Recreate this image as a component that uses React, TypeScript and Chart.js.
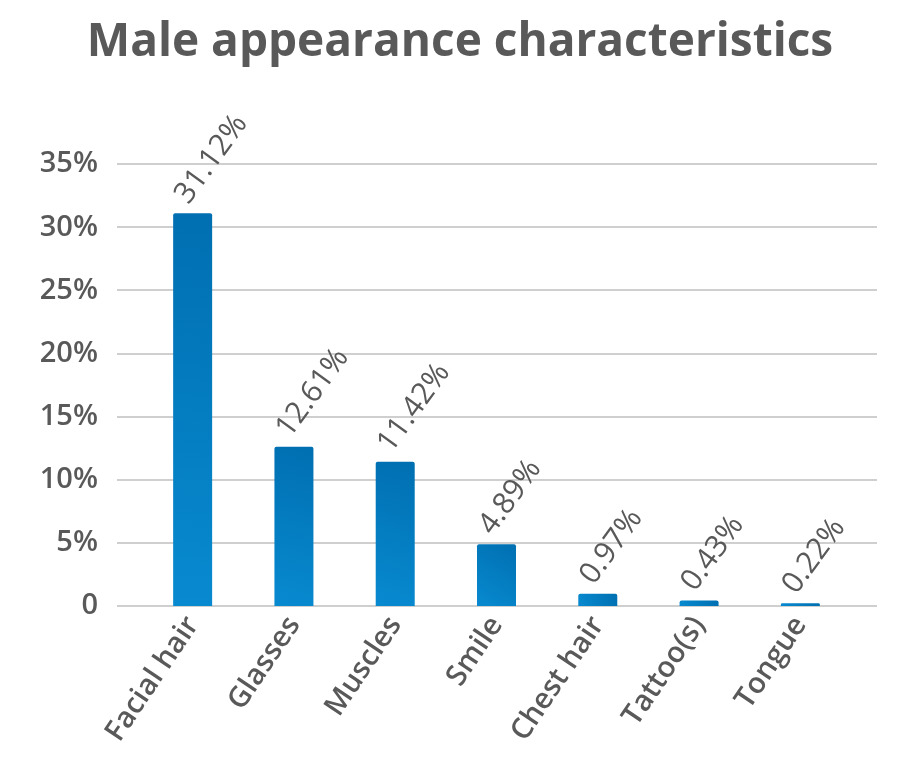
import React, { useEffect, useRef } from "react";
import { Chart, registerables } from "chart.js";

Chart.register(...registerables);

const titleText = "Male appearance characteristics";
const categories = ["Facial hair", "Glasses", "Muscles", "Smile", "Chest hair", "Tattoo(s)", "Tongue"];
const values = [31.12, 12.61, 11.42, 4.89, 0.97, 0.43, 0.22];
const valueLabels = ["31.12%", "12.61%", "11.42%", "4.89%", "0.97%", "0.43%", "0.22%"];
const yTickValues = [0, 5, 10, 15, 20, 25, 30, 35];
const yTickLabels = ["0", "5%", "10%", "15%", "20%", "25%", "30%", "35%"];

const FONT = '"Open Sans", "Noto Sans", sans-serif';
const TEXT = "#595959";

const gridPlugin = {
  id: "extGrid",
  beforeDatasetsDraw(chart: any) {
    const { ctx, chartArea, scales } = chart;
    const y = scales.y;
    ctx.save();
    ctx.strokeStyle = "#cfcfcf";
    ctx.lineWidth = 2;
    yTickValues.forEach((v) => {
      const py = Math.round(y.getPixelForValue(v));
      ctx.beginPath();
      ctx.moveTo(chartArea.left - 25, py);
      ctx.lineTo(chartArea.right + 26, py);
      ctx.stroke();
    });
    ctx.restore();
  },
};

const valueLabelPlugin = {
  id: "valueLabels",
  afterDatasetsDraw(chart: any) {
    const { ctx } = chart;
    const meta = chart.getDatasetMeta(0);
    ctx.save();
    ctx.fillStyle = TEXT;
    ctx.font = `400 30px ${FONT}`;
    ctx.textAlign = "left";
    ctx.textBaseline = "middle";
    meta.data.forEach((bar: any, i: number) => {
      ctx.save();
      ctx.translate(bar.x - 11, bar.y - 13);
      ctx.rotate((-54 * Math.PI) / 180);
      ctx.fillText(valueLabels[i], 0, 0);
      ctx.restore();
    });
    ctx.restore();
  },
};

export default function App() {
  const ref = useRef<HTMLCanvasElement | null>(null);
  useEffect(() => {
    if (!ref.current) return;
    const chart = new Chart(ref.current, {
      type: "bar",
      data: {
        labels: categories,
        datasets: [
          {
            data: values,
            backgroundColor: (c: any) => {
              const ch = c.chart;
              const { scales, chartArea } = ch;
              if (!chartArea || c.dataIndex == null || !scales.x || !scales.y) return "#0080c4";
              const x = scales.x.getPixelForValue(c.dataIndex);
              const top = scales.y.getPixelForValue(values[c.dataIndex]);
              const bottom = scales.y.getPixelForValue(0);
              const g = ch.ctx.createLinearGradient(x + 20, top, x - 20, bottom);
              g.addColorStop(0, "#006fb1");
              g.addColorStop(1, "#088ad0");
              return g;
            },
            borderRadius: 2,
            borderSkipped: "bottom",
            barPercentage: 0.385,
            categoryPercentage: 1,
          },
        ],
      },
      options: {
        responsive: false,
        animation: false,
        layout: { padding: { left: 20, right: 0, top: 0, bottom: 0 } },
        plugins: {
          legend: { display: false },
          tooltip: { enabled: false },
          title: {
            display: true,
            text: titleText,
            color: TEXT,
            font: { family: FONT, size: 46, weight: "bold" },
            padding: { top: 15, bottom: 94 },
          },
        },
        scales: {
          x: {
            grid: { display: false, drawTicks: false },
            border: { display: false },
            ticks: {
              color: TEXT,
              font: { family: FONT, size: 29, weight: "600" },
              minRotation: 56,
              maxRotation: 56,
              padding: 4,
              autoSkip: false,
            },
            afterFit: (s: any) => {
              s.height = 160;
            },
          },
          y: {
            min: 0,
            max: 35,
            grid: { display: false, drawTicks: false },
            border: { display: false },
            ticks: {
              stepSize: 5,
              color: TEXT,
              font: { family: FONT, size: 29, weight: "600" },
              padding: 44,
              callback: (v: any) => {
                const idx = yTickValues.indexOf(Number(v));
                return idx >= 0 ? yTickLabels[idx] : "";
              },
            },
            afterFit: (s: any) => {
              s.width = 122;
            },
          },
          yRight: {
            position: "right",
            min: 0,
            max: 35,
            grid: { display: false, drawTicks: false },
            border: { display: false },
            ticks: { display: false },
            afterFit: (s: any) => {
              s.width = 49;
            },
          },
        },
      },
      plugins: [gridPlugin, valueLabelPlugin],
    });
    return () => chart.destroy();
  }, []);

  return (
    <div style={{ position: "absolute", left: 0, top: 0, width: 900, height: 766, background: "#fff" }}>
      <canvas ref={ref} width={900} height={766} />
    </div>
  );
}
